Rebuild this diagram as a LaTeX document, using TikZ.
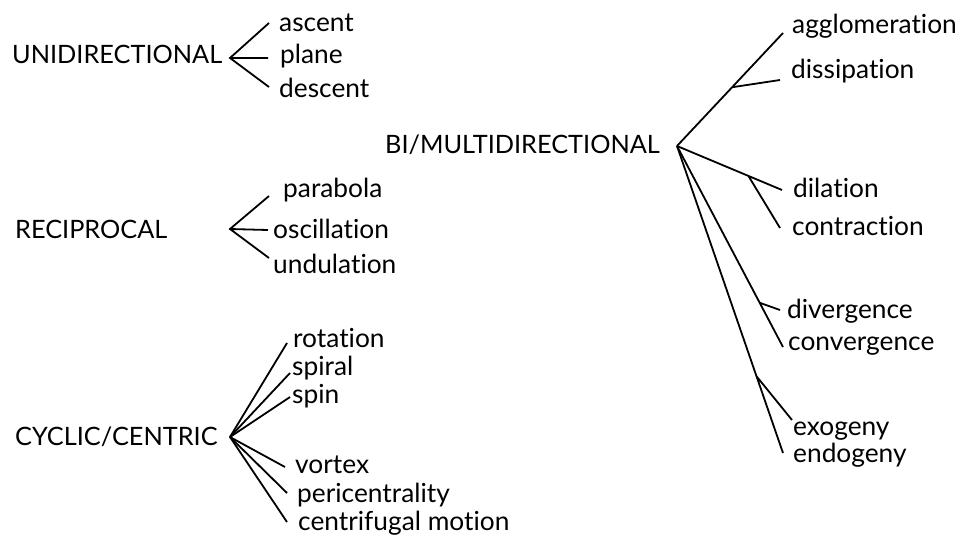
\documentclass[tikz,border=0pt]{standalone}
\usepackage{fontspec}
\setmainfont{Lato}[Ligatures={NoCommon}]
\usetikzlibrary{calc}
\tikzset{
  term/.style={anchor=base west,inner sep=0pt,font=\fontsize{26.3}{28}\selectfont},
  kind/.style={anchor=base west,inner sep=0pt,font=\fontsize{25.3}{28}\selectfont},
  twig/.style={line width=1.8pt}
}
\begin{document}
\begin{tikzpicture}[x=1pt,y=-1pt]
\useasboundingbox (0,0) rectangle (962,538);
% unidirectional
\node[kind] (uni) at (12,63) {UNIDIRECTIONAL};
\coordinate (uniR) at (230,58);
\node[term] (ascent) at (279,31) {ascent};
\node[term] (plane) at (280,63) {plane};
\node[term] (descent) at (279,97) {descent};
\coordinate (ascE) at (269,23);\coordinate (plaE) at (268,58);\coordinate (desE) at (269,87);
\draw[twig] (ascE)--(uniR)--(desE) (uniR)--(plaE);
% reciprocal
\node[kind] (rec) at (15,238) {RECIPROCAL};
\coordinate (recR) at (230,229);
\node[term] (parabola) at (283,197) {parabola};
\node[term] (oscillation) at (273,238) {oscillation};
\node[term] (undulation) at (273,273) {undulation};
\coordinate (parE) at (269,196);\coordinate (oscE) at (268,230);\coordinate (undE) at (269,258);
\draw[twig] (parE)--(recR)--(undE) (recR)--(oscE);
% cyclic/centric
\node[kind] (cyc) at (15,445) {CYCLIC/CENTRIC};
\coordinate (cycR) at (230,437);
\node[term] (rotation) at (293,347) {rotation};
\node[term] (spiral) at (292,375) {spiral};
\node[term] (spin) at (292,403) {spin};
\node[term] (vortex) at (295,473) {vortex};
\node[term] (peri) at (297,502) {pericentrality};
\node[term] (centri) at (298,530) {centrifugal motion};
\coordinate (rotE) at (287,343);\coordinate (spiE) at (290,373);\coordinate (spnE) at (290,397);
\coordinate (vorE) at (285,467);\coordinate (perE) at (287,493);\coordinate (cenE) at (287,522);
\foreach \e in {rotE,spiE,spnE,vorE,perE,cenE}
  \draw[twig] (cycR)--(\e);
% bi/multidirectional
\node[kind] (bi) at (385,153) {BI/MULTIDIRECTIONAL};
\coordinate (biR) at (677,146);
\node[term] (agglo) at (792,33) {agglomeration};
\node[term] (dissip) at (791,78) {dissipation};
\node[term] (dilat) at (793,197) {dilation};
\node[term] (contr) at (792,235) {contraction};
\node[term] (diverg) at (787,318) {divergence};
\node[term] (converg) at (788,350) {convergence};
\node[term] (exog) at (793,435) {exogeny};
\node[term] (endog) at (793,462) {endogeny};
\coordinate (aggE) at (783,33);\coordinate (disE) at (780,80);
\coordinate (dilE) at (782,190);\coordinate (conE) at (780,228);
\coordinate (cvgE) at (783,347);\coordinate (dvgE) at (780,310);
\coordinate (endE) at (783,453);\coordinate (exoE) at (792,420);
\draw[twig] (biR)--(aggE) ($(biR)!0.52!(aggE)$)--(disE);
\draw[twig] (biR)--(dilE) ($(biR)!0.68!(dilE)$)--(conE);
\draw[twig] (biR)--(cvgE) ($(biR)!0.78!(cvgE)$)--(dvgE);
\draw[twig] (biR)--(endE) ($(biR)!0.75!(endE)$)--(exoE);
\end{tikzpicture}
\end{document}
